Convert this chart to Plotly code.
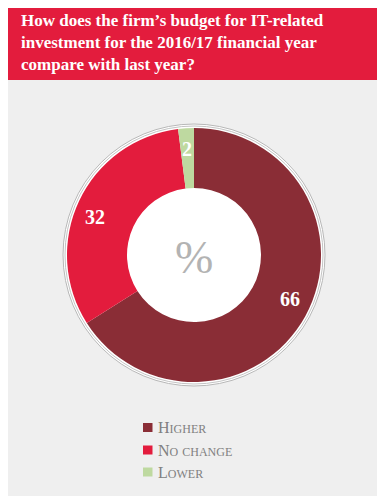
import math
import plotly.graph_objects as go

labels = ["Higher", "No change", "Lower"]
values = [66, 32, 2]
colors = ["#8a2d36", "#e31c3d", "#bed9a0"]
title_lines = ["How does the firm’s budget for IT-related",
               "investment for the 2016/17 financial year",
               "compare with last year?"]

# page body has an 8px margin; work in screen coords and shift
OFF = 8
W, H = 385 - OFF, 500 - OFF
cx, cy, R, r_in = 194, 255, 127, 67

def px(x):
    return (x - OFF) / W

def py(y):
    return 1 - (y - OFF) / H

fig = go.Figure()
fig.add_trace(go.Pie(
    labels=labels, values=values, sort=False, direction="clockwise", rotation=0,
    hole=r_in / R,
    marker=dict(colors=colors, line=dict(width=0)),
    textinfo="none",
    domain=dict(x=[px(cx - R), px(cx + R)], y=[py(cy + R), py(cy - R)]),
    showlegend=False, hoverinfo="label+value",
))

shapes = [
    dict(type="rect", xref="paper", yref="paper", x0=px(5), x1=px(380), y0=py(496), y1=py(80),
         fillcolor="#efefef", line=dict(width=0), layer="below"),
    dict(type="rect", xref="paper", yref="paper", x0=px(5), x1=px(380), y0=py(80), y1=py(5),
         fillcolor="#e31c3d", line=dict(width=0), layer="below"),
    dict(type="circle", xref="paper", yref="paper", x0=px(cx - R - 4), x1=px(cx + R + 4),
         y0=py(cy + R + 4), y1=py(cy - R - 4), fillcolor="white",
         line=dict(color="#b8b8b8", width=1), layer="below"),
    dict(type="circle", xref="paper", yref="paper", x0=px(cx - R - 2), x1=px(cx + R + 2),
         y0=py(cy + R + 2), y1=py(cy - R - 2), fillcolor="rgba(0,0,0,0)",
         line=dict(color="#c4c4c4", width=1), layer="below"),
]

annotations = [
    dict(xref="paper", yref="paper", x=px(19), y=py(9), xanchor="left", yanchor="top",
         align="left", showarrow=False, text="<br>".join(title_lines),
         font=dict(family="Liberation Serif", size=17, color="white", weight="bold")),
    dict(xref="paper", yref="paper", x=px(cx), y=py(cy + 2), xanchor="center", yanchor="middle",
         showarrow=False, text="%",
         font=dict(family="Liberation Serif", size=46, color="#b3b3b3")),
]

# value labels placed near the middle angle of each slice
total = sum(values)
cum = 0
for v in values:
    mid = (cum + v / 2) / total * 360
    cum += v
    mid -= 4 if v > 5 else 0
    rr = 106
    lx = cx + rr * math.sin(math.radians(mid))
    ly = cy - rr * math.cos(math.radians(mid))
    annotations.append(dict(xref="paper", yref="paper", x=px(lx), y=py(ly), xanchor="center",
                            yanchor="middle", showarrow=False, text=str(v),
                            font=dict(family="Liberation Serif", size=20, color="white",
                                      weight="bold")))

def small_caps(s):
    out = ""
    for ch in s:
        if ch.isupper():
            out += ch
        elif ch == " ":
            out += " "
        else:
            out += "<span style='font-size:12px'>" + ch.upper() + "</span>"
    return out

leg_y = [427.5, 450, 472]
for lab, col, yy in zip(labels, colors, leg_y):
    shapes.append(dict(type="rect", xref="paper", yref="paper", x0=px(143), x1=px(152.5),
                       y0=py(yy + 4.5), y1=py(yy - 4.5), fillcolor=col, line=dict(width=0)))
    annotations.append(dict(xref="paper", yref="paper", x=px(155.5), y=py(yy), xanchor="left",
                            yanchor="middle", showarrow=False, text=small_caps(lab),
                            font=dict(family="Liberation Serif", size=16, color="#808080")))

fig.update_layout(width=W, height=H, margin=dict(l=0, r=0, t=0, b=0),
                  paper_bgcolor="white", plot_bgcolor="white",
                  shapes=shapes, annotations=annotations)
fig.write_html("out.html")
